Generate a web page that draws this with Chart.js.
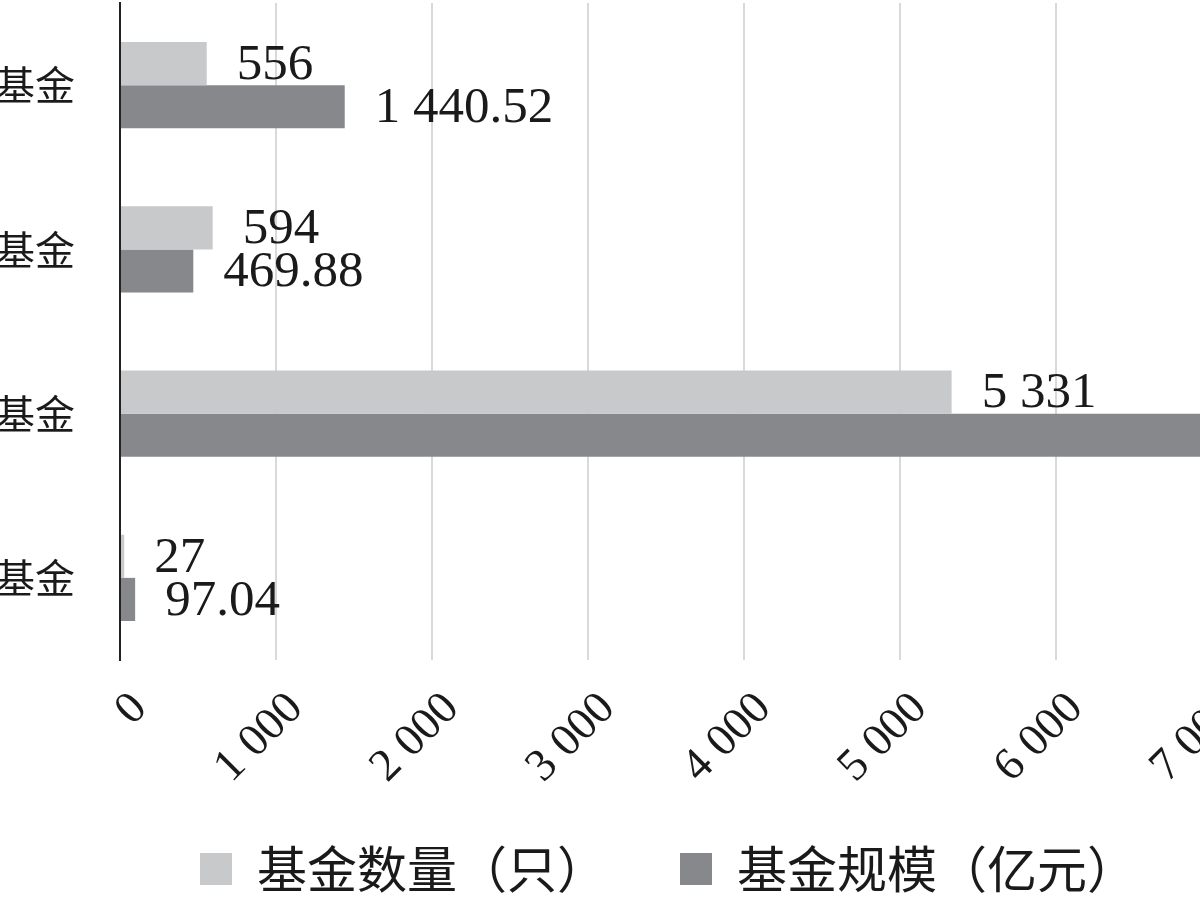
<!DOCTYPE html>
<html>
<head>
<meta charset="utf-8">
<script src="https://cdn.jsdelivr.net/npm/chart.js@4/dist/chart.umd.min.js"></script>
<style>
  html, body { margin: 0; padding: 0; background: #fff; width: 1200px; height: 900px; overflow: hidden; }
  #wrap { position: absolute; left: -187px; top: 0; width: 1711px; height: 904px; }
</style>
</head>
<body>
<div id="wrap"><canvas id="myChart"></canvas></div>
<script>
// values (3rd size bar runs off the edge, estimated)
const categories = ['ESG主题基金', '泛ESG基金', '社会责任基金', '绿色债券基金'];
const fundCounts = [556, 594, 5331, 27];
const fundSizes = [1440.52, 469.88, 7650, 97.04];
const xTickValues = [0, 1000, 2000, 3000, 4000, 5000, 6000, 7000, 8000, 9000];

const serif = '"Liberation Serif", "DejaVu Serif", serif';
const cjk = '"Noto Sans CJK SC", sans-serif';

// 1440.52 -> "1 440.52"
function fmt(v) {
  const parts = String(v).split('.');
  parts[0] = parts[0].replace(/\B(?=(\d{3})+(?!\d))/g, ' ');
  return parts.join('.');
}

const valueLabels = {
  id: 'valueLabels',
  afterDatasetsDraw(chart) {
    const ctx = chart.ctx;
    ctx.save();
    ctx.font = '51px ' + serif;
    ctx.fillStyle = '#1a1a1a';
    ctx.textBaseline = 'middle';
    ctx.textAlign = 'left';
    chart.data.datasets.forEach((ds, i) => {
      chart.getDatasetMeta(i).data.forEach((bar, j) => {
        ctx.fillText(fmt(ds.data[j]), bar.x + 30, bar.y + 2);
      });
    });
    ctx.restore();
  }
};

const data = {
  labels: categories,
  datasets: [{
    label: '基金数量（只）',
    backgroundColor: 'rgb(200, 201, 203)',
    data: fundCounts,
  }, {
    label: '基金规模（亿元）',
    backgroundColor: 'rgb(134, 136, 139)',
    data: fundSizes,
  }]
};

const config = {
  type: 'bar',
  data,
  plugins: [valueLabels],
  options: {
    indexAxis: 'y',
    responsive: true,
    maintainAspectRatio: false,
    animation: false,
    categoryPercentage: 0.525,
    barPercentage: 1,
    layout: { padding: { top: 3, left: 0, right: 0, bottom: 0 } },
    plugins: {
      tooltip: { enabled: false },
      legend: {
        position: 'bottom',
        labels: {
          boxWidth: 32,
          boxHeight: 32,
          padding: 73,
          color: '#1a1a1a',
          font: { family: cjk, size: 50 }
        }
      }
    },
    scales: {
      x: {
        min: 0,
        max: 9000,
        afterBuildTicks: (axis) => { axis.ticks = xTickValues.map(v => ({ value: v })); },
        afterFit: (axis) => {
          axis.height = 111;
          axis.paddingLeft = 0;
          axis.paddingRight = 0;
          // let the slanted labels run below the axis box
          axis._computeLabelArea = () => ({ top: axis.top, left: 0, bottom: axis.chart.height, right: axis.chart.width });
        },
        grid: { color: '#d9d9d9', lineWidth: 2, drawTicks: false },
        border: { display: false },
        ticks: {
          minRotation: 45,
          maxRotation: 45,
          padding: 22,
          labelOffset: 20,
          color: '#1a1a1a',
          font: { family: serif, size: 46 },
          callback: function(value) { return fmt(value); }
        }
      },
      y: {
        afterFit: (axis) => {
          axis.width = 307;
          axis.paddingTop = 0;
          axis.paddingBottom = 0;
        },
        grid: { display: false, drawTicks: false },
        border: { display: true, color: '#222', width: 2 },
        ticks: {
          padding: 45,
          color: '#1a1a1a',
          font: { family: cjk, size: 40 }
        }
      }
    }
  }
};

var myChart = new Chart(
  document.getElementById('myChart'),
  config
);
</script>
</body>
</html>
